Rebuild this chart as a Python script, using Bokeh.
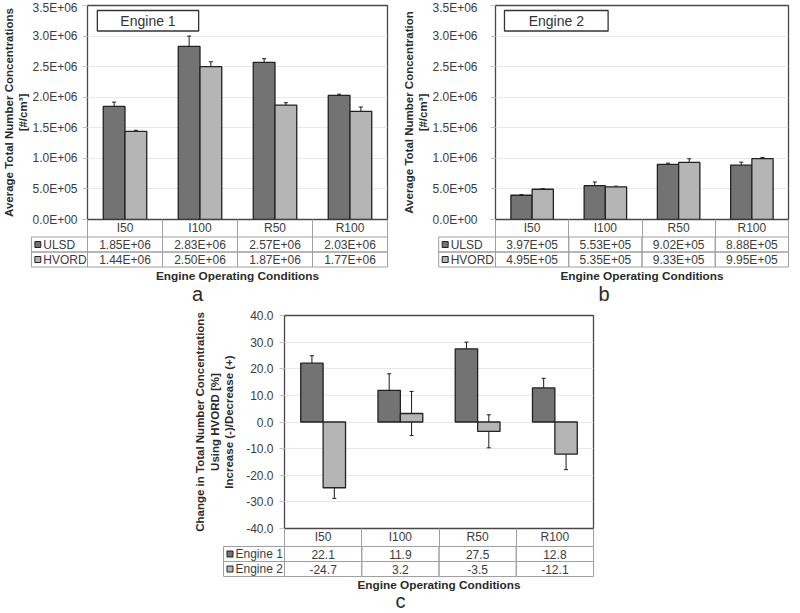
from bokeh.plotting import figure
from bokeh.layouts import column, row
from bokeh.models import Range1d, FixedTicker, ColumnDataSource, Whisker, TeeHead
from bokeh.core.properties import value
from bokeh.embed import file_html
from bokeh.resources import INLINE

# ---------------- data ----------------
CATEGORIES = ["I50", "I100", "R50", "R100"]

E1_ULSD = [1.85e6, 2.83e6, 2.57e6, 2.03e6]
E1_HVORD = [1.44e6, 2.50e6, 1.87e6, 1.77e6]
E1_ULSD_ERR = [0.07e6, 0.17e6, 0.06e6, 0.02e6]
E1_HVORD_ERR = [0.02e6, 0.08e6, 0.04e6, 0.07e6]

E2_ULSD = [3.97e5, 5.53e5, 9.02e5, 8.88e5]
E2_HVORD = [4.95e5, 5.35e5, 9.33e5, 9.95e5]
E2_ULSD_ERR = [0.01e6, 0.06e6, 0.02e6, 0.05e6]
E2_HVORD_ERR = [0.01e6, 0.01e6, 0.06e6, 0.02e6]

CHG_E1 = [22.1, 11.9, 27.5, 12.8]
CHG_E2 = [-24.7, 3.2, -3.5, -12.1]
CHG_E1_ERR = [2.8, 6.2, 2.5, 3.6]
CHG_E2_ERR = [4.0, 8.3, 6.2, 5.8]

CONC_TICKS = [0, 5e5, 1.0e6, 1.5e6, 2.0e6, 2.5e6, 3.0e6, 3.5e6]
CONC_TICK_LABELS = ["0.0E+00", "5.0E+05", "1.0E+06", "1.5E+06", "2.0E+06",
                    "2.5E+06", "3.0E+06", "3.5E+06"]
CHG_TICKS = [-40, -30, -20, -10, 0, 10, 20, 30, 40]
CHG_TICK_LABELS = ["-40.0", "-30.0", "-20.0", "-10.0", "0.0", "10.0", "20.0", "30.0", "40.0"]

FUEL_NAMES = ["ULSD", "HVORD"]
ENGINE_NAMES = ["Engine 1", "Engine 2"]
X_TITLE = "Engine Operating Conditions"

# ---------------- style ----------------
FONT = value("Liberation Sans")
DARK = "#737373"
LIGHT = "#b5b5b5"
EDGE = "#222222"
TXT = "#3c3c3c"
GRID = "#e8e8e8"
CELL = "#a0a0a0"
BAR_W = 0.29
OV = "overlay"   # level drawn without frame clipping (table under the chart)


def make_panel(W, H, fl, fr, ft, fb, yr, yticks, ylabels, ylabel, tick_standoff,
               label_standoff, s1, s2, e1, e2, names, fmt, leg_left, row_edges,
               cap_y, letter_x, letter_y, letter, box_text=None, box_px=None):
    """fl/fr/ft/fb: frame edges in pixels of this panel; row_edges: pixel y of
    table row boundaries (header bottom, row1 bottom, row2 bottom)."""
    n = len(CATEGORIES)
    p = figure(output_backend="svg", toolbar_location=None, width=W, height=H,
               x_range=Range1d(0, n), y_range=Range1d(*yr),
               min_border_left=fl, min_border_right=W - fr,
               min_border_top=ft, min_border_bottom=H - fb)
    p.background_fill_color = "white"
    p.border_fill_color = "white"
    p.outline_line_color = "#474747"
    p.outline_line_width = 1.3

    ppx = (fr - fl) / n
    ppy = (fb - ft) / (yr[1] - yr[0])
    xd = lambda px: (px - fl) / ppx
    yd = lambda py: yr[0] + (fb - py) / ppy
    header_h = round(row_edges[0] - fb)

    # x axis = header row of the table
    xa = p.xaxis[0]
    xa.ticker = FixedTicker(ticks=[i + 0.5 for i in range(n)],
                            minor_ticks=list(range(n + 1)))
    xa.major_label_overrides = {i + 0.5: c for i, c in enumerate(CATEGORIES)}
    xa.major_tick_line_color = None
    xa.minor_tick_line_color = CELL
    xa.minor_tick_in = 0
    xa.minor_tick_out = header_h
    xa.axis_line_color = None
    xa.major_label_standoff = -header_h + 1
    xa.major_label_text_font = "Liberation Sans"
    xa.major_label_text_font_size = "12px"
    xa.major_label_text_color = TXT

    ya = p.yaxis[0]
    ya.ticker = FixedTicker(ticks=yticks)
    ya.major_label_overrides = {t: l for t, l in zip(yticks, ylabels)}
    ya.major_tick_line_color = "#c4c4c4"
    ya.major_tick_out = 5
    ya.major_tick_in = 0
    ya.minor_tick_line_color = None
    ya.axis_line_color = None
    ya.major_label_standoff = tick_standoff
    ya.major_label_text_font = "Liberation Sans"
    ya.major_label_text_font_size = "12px"
    ya.major_label_text_color = TXT
    ya.axis_label = ylabel
    ya.axis_label_standoff = label_standoff
    ya.axis_label_text_font = "Liberation Sans"
    ya.axis_label_text_font_style = "bold"
    ya.axis_label_text_font_size = "11.5px"
    ya.axis_label_text_color = "#2a2a2a"
    p.xgrid.visible = False
    p.ygrid.ticker = FixedTicker(ticks=yticks)
    p.ygrid.grid_line_color = GRID

    # bars + error bars
    x1 = [i + 0.5 - BAR_W / 2 for i in range(n)]
    x2 = [i + 0.5 + BAR_W / 2 for i in range(n)]
    p.vbar(x=x1, top=s1, width=BAR_W, fill_color=DARK, line_color=EDGE, line_width=1.3)
    p.vbar(x=x2, top=s2, width=BAR_W, fill_color=LIGHT, line_color=EDGE, line_width=1.3)
    for xs, vs, es in ((x1, s1, e1), (x2, s2, e2)):
        src = ColumnDataSource(dict(x=xs, up=[v + e for v, e in zip(vs, es)],
                                   lo=[v - e for v, e in zip(vs, es)]))
        p.add_layout(Whisker(base="x", upper="up", lower="lo", source=src,
                             line_color="#1a1a1a", line_width=1,
                             upper_head=TeeHead(size=4, line_color="#1a1a1a", line_width=1),
                             lower_head=TeeHead(size=4, line_color="#1a1a1a", line_width=1)))

    if box_text:
        l, r, t, b = box_px
        p.quad(left=[xd(l)], right=[xd(r)], top=[yd(t)], bottom=[yd(b)],
               fill_color="white", line_color="#333333", line_width=1.3)
        p.text(x=[xd((l + r) / 2)], y=[yd((t + b) / 2)], text=[box_text],
               text_align="center", text_baseline="middle", text_font=FONT,
               text_font_size="14px", text_color="#333333")

    # data table under the chart
    leg_x0 = xd(leg_left)
    rows_top = [row_edges[0], row_edges[1]]
    rows_bot = [row_edges[1], row_edges[2]]
    lefts, rights, tops, bottoms = [], [], [], []
    for r in range(2):
        for a, b in [(leg_x0, 0)] + [(i, i + 1) for i in range(n)]:
            lefts.append(a); rights.append(b)
            tops.append(yd(rows_top[r])); bottoms.append(yd(rows_bot[r]))
    p.quad(left=lefts, right=rights, top=tops, bottom=bottoms, fill_color=None,
           line_color=CELL, line_width=1, level=OV)
    xs, ys, labels = [], [], []
    for r, series in enumerate((s1, s2)):
        for i, v in enumerate(series):
            xs.append(i + 0.5); ys.append(yd((rows_top[r] + rows_bot[r]) / 2))
            labels.append(fmt(v))
    p.text(x=xs, y=ys, text=labels, text_align="center", text_baseline="middle",
           text_font=FONT, text_font_size="12px", text_color=TXT, level=OV)
    rc = [(rows_top[r] + rows_bot[r]) / 2 for r in range(2)]
    p.quad(left=[xd(leg_left + 3.5)] * 2, right=[xd(leg_left + 9.5)] * 2,
           top=[yd(c - 3) for c in rc], bottom=[yd(c + 3) for c in rc],
           fill_color=[DARK, LIGHT], line_color=EDGE, line_width=1, level=OV)
    p.text(x=[xd(leg_left + 12)] * 2, y=[yd(c) for c in rc], text=names,
           text_align="left", text_baseline="middle", text_font=FONT,
           text_font_size="12px", text_color=TXT, level=OV)

    # captions
    p.text(x=[n / 2], y=[yd(cap_y)], text=[X_TITLE], text_align="center",
           text_baseline="middle", text_font=FONT, text_font_size="11.8px",
           text_font_style="bold", text_color="#2a2a2a", level=OV)
    p.text(x=[xd(letter_x)], y=[yd(letter_y)], text=[letter], text_align="center",
           text_baseline="middle", text_font=FONT, text_font_size="20px",
           text_color="#2a2a2a", level=OV)
    return p


conc_fmt = lambda v: f"{v:.2E}"
chg_fmt = lambda v: f"{v:.1f}"

panel_a = make_panel(400, 306, 82, 387, 5, 219, (0, 3.5e6), CONC_TICKS, CONC_TICK_LABELS,
                     "Average Total Number Concentrations\n[#/cm³]", 5, 0,
                     E1_ULSD, E1_HVORD, E1_ULSD_ERR, E1_HVORD_ERR, FUEL_NAMES, conc_fmt,
                     25, (236.5, 251.5, 266.5), 275, 194, 293, "a",
                     "Engine 1", (92, 195, 10, 30.5))

panel_b = make_panel(400, 306, 94, 388, 5, 219, (0, 3.5e6), CONC_TICKS, CONC_TICK_LABELS,
                     "Average Total Number Concentration\n[#/cm³]", 13, 0,
                     E2_ULSD, E2_HVORD, E2_ULSD_ERR, E2_HVORD_ERR, FUEL_NAMES, conc_fmt,
                     37, (236.5, 251.5, 266.5), 275, 203, 293, "b",
                     "Engine 2", (103, 207, 10, 30.5))

panel_c = make_panel(800, 307, 284, 593, 9, 222, (-40, 40), CHG_TICKS, CHG_TICK_LABELS,
                     "Change in Total Number Concentrations\nUsing HVORD [%]\nIncrease (-)/Decrease (+)",
                     6, 8, CHG_E1, CHG_E2, CHG_E1_ERR, CHG_E2_ERR, ENGINE_NAMES, chg_fmt,
                     223, (240, 255, 270), 278, 400, 294, "c")

layout = column(row(panel_a, panel_b), panel_c)

open("out.html", "w").write(file_html(layout, INLINE))
